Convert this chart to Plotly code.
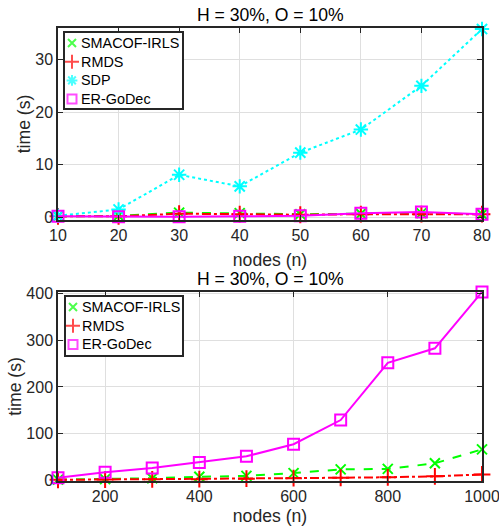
import plotly.graph_objects as go

# ---------------- data ----------------
nodes_small = [10, 20, 30, 40, 50, 60, 70, 80]
smacof_small = [0.2, 0.3, 0.9, 0.8, 0.6, 0.7, 0.8, 0.6]
rmds_small = [0.2, 0.2, 0.7, 0.6, 0.5, 0.6, 0.6, 0.6]
sdp_small = [0.3, 1.5, 8.1, 5.9, 12.3, 16.7, 25.0, 35.8]
ergodec_small = [0.2, 0.1, 0.1, 0.2, 0.3, 0.8, 1.0, 0.6]

nodes_large = [100, 200, 300, 400, 500, 600, 700, 800, 900, 1000]
smacof_large = [1, 2, 4, 7, 9, 15, 23, 24, 36, 66]
rmds_large = [0.5, 1, 1.5, 2, 3, 4, 5, 6, 8, 12]
ergodec_large = [5, 17, 26, 38, 51, 77, 129, 252, 283, 404]

title_text = "H = 30%, O = 10%"
xlabel = "nodes (n)"
ylabel = "time (s)"
xticks_small = [10, 20, 30, 40, 50, 60, 70, 80]
yticks_small = [0, 10, 20, 30]
xticks_large = [200, 400, 600, 800, 1000]
yticks_large = [0, 100, 200, 300, 400]
legend_small = ["SMACOF-IRLS", "RMDS", "SDP", "ER-GoDec"]
legend_large = ["SMACOF-IRLS", "RMDS", "ER-GoDec"]

# ---------------- styles ----------------
W, H = 499, 526
ML, MR, MT, MB = 58, 17, 28, 45
PW, PH = W - ML - MR, H - MT - MB

FONT = "Liberation Sans, Arial, Helvetica, sans-serif"
AX = "#262626"
GRID = "#dfdfdf"
styles = {
    "SMACOF-IRLS": dict(color="#00ff00", dash="dash", symbol="x-thin-open", size=10, lsize=8),
    "RMDS": dict(color="#ff0000", dash="dashdot", symbol="cross-thin-open", size=12, lsize=10),
    "SDP": dict(color="#00ffff", dash="dot", symbol="asterisk-open", size=12, lsize=9),
    "ER-GoDec": dict(color="#ff00ff", dash="solid", symbol="square-open", size=11, lsize=9),
}


def px_x(x):
    return (x - ML) / PW


def px_y(y):
    return 1 - (y - MT) / PH


fig = go.Figure()


def add_series(name, x, y, xa, ya):
    s = styles[name]
    fig.add_trace(go.Scatter(
        x=x, y=y, mode="lines+markers", name=name, xaxis=xa, yaxis=ya,
        line=dict(color=s["color"], dash=s["dash"], width=2),
        marker=dict(symbol=s["symbol"], size=s["size"], color=s["color"],
                    line=dict(color=s["color"], width=2)),
        cliponaxis=False, showlegend=False,
    ))


for nm, vals in zip(legend_small, [smacof_small, rmds_small, sdp_small, ergodec_small]):
    add_series(nm, nodes_small, vals, "x", "y")
for nm, vals in zip(legend_large, [smacof_large, rmds_large, ergodec_large]):
    add_series(nm, nodes_large, vals, "x2", "y2")

# ---------------- legends (small boxed subplots drawn on top) ----------------
ROW_H = 18.7
annotations = []


def add_legend(names, xa, ya, box_px):
    x0, y0, x1, y1 = box_px
    bw, bh = x1 - x0, y1 - y0
    rows = [10 + ROW_H * i for i in range(len(names))]
    fig.add_trace(go.Scatter(
        x=[7] * len(names), y=rows, mode="markers", xaxis=xa, yaxis=ya,
        marker=dict(symbol=[styles[n]["symbol"] for n in names],
                    size=[styles[n]["lsize"] for n in names],
                    color=[styles[n]["color"] for n in names],
                    line=dict(color=[styles[n]["color"] for n in names], width=2)),
        cliponaxis=False, showlegend=False, hoverinfo="skip",
    ))
    for n, r in zip(names, rows):
        annotations.append(dict(
            text=n, xref=xa, yref=ya, x=14, y=r, xanchor="left", yanchor="middle",
            showarrow=False, font=dict(family=FONT, size=14.4, color="#000000")))
    dom_x = [px_x(x0), px_x(x1)]
    dom_y = [px_y(y1), px_y(y0)]
    return dom_x, dom_y, bw, bh


lx1, ly1, bw1, bh1 = add_legend(legend_small, "x3", "y3", (65, 33, 182, 108))
lx2, ly2, bw2, bh2 = add_legend(legend_large, "x4", "y4", (66, 297, 182, 355))

common_axis = dict(
    showline=True, linecolor=AX, linewidth=1.5, mirror="ticks",
    ticks="inside", ticklen=5, tickwidth=1.2, tickcolor=AX,
    showgrid=True, gridcolor=GRID, gridwidth=1.2, zeroline=False,
    tickfont=dict(family=FONT, size=16, color=AX), automargin=False,
    ticklabeloverflow="allow",
)
legend_axis = dict(showline=True, linecolor=AX, linewidth=1.8, mirror=True,
                   showticklabels=False, ticks="", showgrid=False, zeroline=False,
                   fixedrange=True, automargin=False)

TOP_DOM = [px_y(220), 1.0]
BOT_DOM = [0.0, px_y(292)]
title_font = dict(size=17.6, color=AX, family=FONT)

fig.update_layout(
    width=W, height=H,
    margin=dict(l=ML, r=MR, t=MT, b=MB, autoexpand=False),
    paper_bgcolor="white", plot_bgcolor="white",
    font=dict(family=FONT, color=AX),
    showlegend=False,
    xaxis=dict(common_axis, domain=[0, 1], anchor="y", range=[10, 80],
               tickvals=xticks_small, title=dict(text=xlabel, font=title_font, standoff=11)),
    yaxis=dict(common_axis, domain=TOP_DOM, anchor="x", range=[-0.5, 36],
               tickvals=yticks_small, title=dict(text=ylabel, font=title_font, standoff=0)),
    xaxis2=dict(common_axis, domain=[0, 1], anchor="y2", range=[100, 1000],
                tickvals=xticks_large, title=dict(text=xlabel, font=title_font, standoff=13)),
    yaxis2=dict(common_axis, domain=BOT_DOM, anchor="x2", range=[-2, 404],
                tickvals=yticks_large, title=dict(text=ylabel, font=title_font, standoff=0)),
    xaxis3=dict(legend_axis, domain=lx1, anchor="y3", range=[0, bw1]),
    yaxis3=dict(legend_axis, domain=ly1, anchor="x3", range=[bh1, 0]),
    xaxis4=dict(legend_axis, domain=lx2, anchor="y4", range=[0, bw2]),
    yaxis4=dict(legend_axis, domain=ly2, anchor="x4", range=[bh2, 0]),
    annotations=annotations + [
        dict(text=title_text, xref="paper", yref="paper", x=0.5, y=TOP_DOM[1],
             xanchor="center", yanchor="bottom", yshift=1, showarrow=False,
             font=dict(family=FONT, size=17.6, color="#000000")),
        dict(text=title_text, xref="paper", yref="paper", x=0.5, y=BOT_DOM[1],
             xanchor="center", yanchor="bottom", yshift=1, showarrow=False,
             font=dict(family=FONT, size=17.6, color="#000000")),
    ],
)

fig.write_html("out.html", config={"displayModeBar": False},
               post_script="document.body.style.margin='0';")
